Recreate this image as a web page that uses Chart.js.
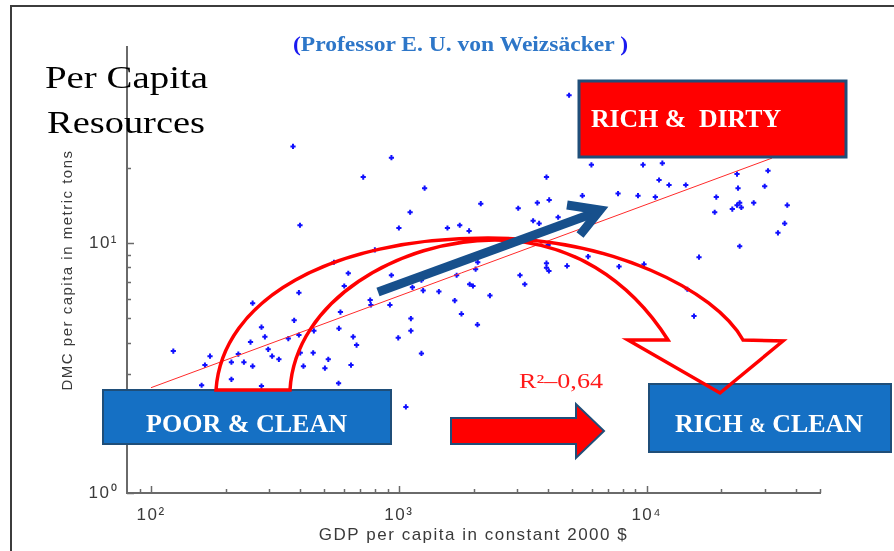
<!DOCTYPE html>
<html><head><meta charset="utf-8">
<script src="https://cdn.jsdelivr.net/npm/chart.js"></script>
<style>
html,body{margin:0;padding:0;background:#fff;}
#wrap{position:relative;width:894px;height:551px;overflow:hidden;background:#fff;}
#c{position:absolute;left:0;top:0;}
#ov{position:absolute;left:0;top:0;pointer-events:none;}
#ov text{white-space:pre;}
</style></head><body>
<div id="wrap">
<canvas id="c" width="894" height="551"></canvas>
<svg id="ov" width="894" height="551" viewBox="0 0 894 551" xmlns="http://www.w3.org/2000/svg" xml:space="preserve">
 <path d="M11 551 V6 H894" fill="none" stroke="#3c3c3c" stroke-width="2"/>
 <text x="293" y="51" font-family="Liberation Serif" font-size="21" font-weight="bold" textLength="335" lengthAdjust="spacingAndGlyphs"><tspan fill="#1a1af0">(</tspan><tspan fill="#2d76c8">Professor E. U. von Weizsäcker </tspan><tspan fill="#1a1af0">)</tspan></text>
 <text x="45" y="88" font-family="Liberation Serif" font-size="32" fill="#000" textLength="163" lengthAdjust="spacingAndGlyphs">Per Capita</text>
 <text x="47" y="133" font-family="Liberation Serif" font-size="32" fill="#000" textLength="158" lengthAdjust="spacingAndGlyphs">Resources</text>
 <rect x="579" y="81" width="267" height="76" fill="#ff0000" stroke="#1f4e79" stroke-width="3"/>
 <rect x="103" y="390" width="288" height="54" fill="#1570c4" stroke="#1f4e79" stroke-width="2"/>
 <rect x="649" y="384" width="242" height="68" fill="#1570c4" stroke="#1f4e79" stroke-width="2"/>
 <path d="M451 418 H576 V404 L604 431 L576 458 V444 H451 Z" fill="#ff0000" stroke="#1f4e79" stroke-width="2"/>
 <path d="M216 390 C222 300 330 238 488 238 C610 238 715 290 743 340 L783 341 L720 393 L628 340 L668 340 C630 280 570 240 495 240 C400 240 295 300 290 390 Z" fill="none" stroke="#ff0000" stroke-width="3.5" stroke-linejoin="miter"/>
 <g stroke="#17508c" stroke-width="9" fill="none" stroke-linecap="butt">
  <line x1="378" y1="292" x2="594" y2="213"/>
  <polyline points="567,205 600,210 580,235" stroke-linejoin="miter"/>
 </g>
 <g font-family="Liberation Serif" font-weight="bold" fill="#ffffff" font-size="26">
  <text x="591" y="127" textLength="190" lengthAdjust="spacingAndGlyphs">RICH &amp;  DIRTY</text>
  <text x="146" y="432" textLength="201" lengthAdjust="spacingAndGlyphs">POOR &amp; CLEAN</text>
  <text x="675" y="432" textLength="188" lengthAdjust="spacingAndGlyphs">RICH <tspan font-size="20">&amp;</tspan> CLEAN</text>
 </g>
 <text x="519" y="388" font-family="Liberation Serif" font-size="20" fill="#ff1a1a" textLength="84" lengthAdjust="spacingAndGlyphs">R²–0,64</text>
</svg>
</div>
<script>
// GDP per capita (constant 2000 $) and DMC per capita (metric tons)
const gdpPerCapita = [
  374, 399, 718, 4860, 933, 3940, 1270, 5500, 4040, 3620,
  2140, 3030, 1110, 4390, 1000, 1570, 1760, 1920, 3480, 3680,
  5980, 9660, 11560, 11210, 12300, 14370, 7660, 9220, 10830, 23130,
  30840, 23350, 29910, 19080, 23710, 23130, 24070, 27010, 36890, 22140,
  18800, 36010, 33830, 23710, 16250, 7730, 9750, 14580, 15510, 5800,
  4000, 3940, 3940, 4030, 4770, 3080, 3220, 2080, 2040, 1930,
  1990, 2330, 1710, 1680, 800, 933, 1233, 1134, 1253, 1450,
  766, 771, 920, 1118, 1118, 1788, 2075, 994, 1233, 1067,
  547, 625, 395, 602, 257, 581, 378, 279, 288, 573,
  454, 395, 358, 654, 675, 252, 123, 225, 297, 400,
  451, 173, 308, 328, 211, 237, 519, 165, 257, 412,
  503, 641, 211, 160, 279, 571
];
const dmcPerCapita = [
  24.4, 11.8, 18.4, 39.1, 22.0, 18.4, 16.6, 15.5, 14.9, 14.5,
  14.4, 13.8, 13.3, 12.7, 11.5, 11.5, 11.8, 11.2, 12.3, 12.0,
  20.6, 20.6, 20.9, 17.9, 17.1, 17.1, 15.8, 15.5, 15.3, 18.9,
  19.5, 16.6, 16.9, 15.3, 14.5, 14.2, 13.9, 14.5, 14.2, 13.7,
  13.3, 12.0, 11.0, 9.72, 8.79, 8.06, 8.24, 6.54, 5.11, 8.84,
  9.84, 8.32, 7.98, 7.74, 8.11, 7.44, 6.85, 8.39, 7.87, 6.85,
  6.74, 6.17, 7.44, 5.89, 9.40, 7.44, 7.11, 6.66, 6.46, 6.40,
  5.92, 5.66, 5.66, 4.99, 4.46, 5.21, 4.72, 4.18, 3.62, 2.21,
  8.39, 7.58, 6.34, 6.74, 5.75, 5.30, 4.91, 4.61, 4.22, 4.56,
  4.46, 4.29, 4.15, 4.22, 3.91, 4.02, 3.70, 3.60, 3.76, 3.64,
  3.64, 3.53, 3.53, 3.43, 3.34, 3.34, 3.43, 3.25, 3.22, 3.22,
  3.16, 3.25, 2.85, 2.70, 2.68, 2.75
];
// power-law fit line end points
const fitGdp = [100, 32000];
const fitDmc = [2.64, 21.9];

// axes
const xMin = 80, xMax = 50000;
const yMin = 1, yMax = 61;
const xTickValues = [90,100,200,300,400,500,600,700,800,900,1000,2000,3000,4000,5000,6000,7000,8000,9000,10000,20000,30000,40000,50000];
const yTickValues = [1,2,3,4,5,6,7,8,9,10,20];
const xTickLabels = {100:'10²', 1000:'10³', 10000:'10⁴'};
const yTickLabels = {1:'10⁰', 10:'10¹'};
const xTitle = 'GDP per capita in constant 2000 $';
const yTitle = 'DMC per capita in metric tons';

const isPow10 = v => Math.abs(Math.log10(v) - Math.round(Math.log10(v))) < 1e-9;

const spacingPlugin = {
  id: 'spacing',
  beforeDraw(chart){ chart.ctx.letterSpacing = '1.5px'; },
  beforeDatasetsDraw(chart){ chart.ctx.letterSpacing = '0px'; }
};
const inwardTicks = {
  id: 'inwardTicks',
  afterDatasetsDraw(chart){
    const ctx = chart.ctx, xs = chart.scales.x, ys = chart.scales.y;
    const bottom = xs.top, left = ys.right;
    ctx.save();
    ctx.strokeStyle = '#6a6a6a';
    ctx.lineWidth = 1.5;
    xs.ticks.forEach(t => {
      const p = Math.round(xs.getPixelForValue(t.value)) + 0.5;
      const len = isPow10(t.value) ? 7 : 4;
      ctx.beginPath(); ctx.moveTo(p, bottom); ctx.lineTo(p, bottom - len); ctx.stroke();
    });
    ys.ticks.forEach(t => {
      const p = Math.round(ys.getPixelForValue(t.value)) + 0.5;
      const len = isPow10(t.value) ? 7 : 4;
      ctx.beginPath(); ctx.moveTo(left, p); ctx.lineTo(left + len, p); ctx.stroke();
    });
    ctx.restore();
  }
};

new Chart(document.getElementById('c'), {
  type: 'scatter',
  data: {
    datasets: [
      {
        type: 'line',
        data: fitGdp.map((g, i) => ({x: g, y: fitDmc[i]})),
        borderColor: '#ff2a2a',
        borderWidth: 1,
        pointRadius: 0,
        fill: false,
        tension: 0
      },
      {
        type: 'scatter',
        data: gdpPerCapita.map((g, i) => ({x: g, y: dmcPerCapita[i]})),
        pointStyle: 'cross',
        pointRadius: 2.6,
        pointBorderWidth: 2,
        borderColor: '#1010ff',
        backgroundColor: '#1010ff'
      }
    ]
  },
  options: {
    responsive: false,
    animation: false,
    events: [],
    layout: {padding: {left: 0, top: 47, right: 74, bottom: 0}},
    plugins: {legend: {display: false}, tooltip: {enabled: false}, title: {display: false}},
    scales: {
      x: {
        type: 'logarithmic',
        position: 'bottom',
        min: xMin, max: xMax,
        afterBuildTicks: s => { s.ticks = xTickValues.map(v => ({value: v})); },
        afterFit: s => { s.height = 58; },
        grid: {display: false, drawTicks: false},
        border: {display: true, color: '#6a6a6a', width: 2},
        ticks: {
          autoSkip: false, maxRotation: 0, padding: 12,
          color: '#3a3a3a',
          font: {family: 'Liberation Sans', size: 17},
          callback: v => xTickLabels[v] || ''
        },
        title: {
          display: true, text: xTitle, color: '#3a3a3a',
          font: {family: 'Liberation Sans', size: 17, lineHeight: 1.2},
          padding: {top: 0, bottom: 5}
        }
      },
      y: {
        type: 'logarithmic',
        position: 'left',
        min: yMin, max: yMax,
        afterBuildTicks: s => { s.ticks = yTickValues.map(v => ({value: v})); },
        afterFit: s => { s.width = 127; },
        grid: {display: false, drawTicks: false},
        border: {display: true, color: '#6a6a6a', width: 2},
        ticks: {
          autoSkip: false, padding: 9,
          color: '#3a3a3a',
          font: {family: 'Liberation Sans', size: 17},
          callback: v => yTickLabels[v] || ''
        },
        title: {
          display: true, text: yTitle, color: '#3a3a3a',
          font: {family: 'Liberation Sans', size: 15, lineHeight: 1.2},
          padding: {top: 59, bottom: 0}
        }
      }
    }
  },
  plugins: [spacingPlugin, inwardTicks]
});
</script>
</body></html>
